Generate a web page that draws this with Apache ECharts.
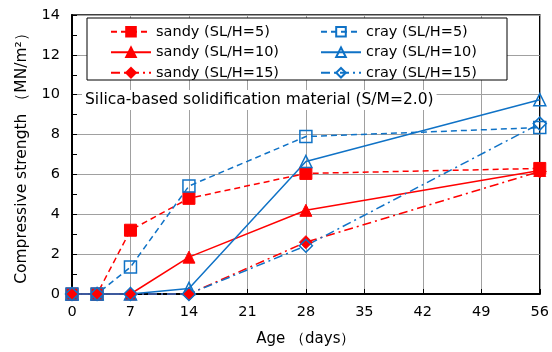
<!DOCTYPE html>
<html>
<head>
<meta charset="utf-8">
<script src="https://cdn.jsdelivr.net/npm/echarts@6/dist/echarts.min.js"></script>
<style>
  html, body { margin: 0; padding: 0; background: #fff; }
  #chart { width: 552px; height: 352px; }
</style>
</head>
<body>
<div id="chart"></div>
<script>
// 材齢（日）
const ages = [0, 3, 7, 14, 28, 56]
const xTicks = [0, 7, 14, 21, 28, 35, 42, 49, 56]
const yTicks = [0, 2, 4, 6, 8, 10, 12, 14]

// 一軸圧縮強さ (MN/m2)
const sandy5 = [0, 0, 3.2, 4.8, 6.05, 6.3]
const sandy10 = [0, 0, 0, 1.85, 4.2, 6.2]
const sandy15 = [0, 0, 0, 0, 2.6, 6.15]
const cray5 = [0, 0, 1.35, 5.42, 7.9, 8.35]
const cray10 = [0, 0, 0, 0.28, 6.65, 9.75]
const cray15 = [0, 0, 0, 0, 2.42, 8.55]

const RED = '#ff0000'
const BLUE = '#0f72c6'
const FONT = 'DejaVu Sans'

const pairs = vals => ages.map((a, i) => [a, vals[i]])

function line (name, vals, color, type, symbol, hollow) {
  return {
    name,
    type: 'line',
    data: pairs(vals),
    symbol,
    symbolSize: symbol === 'diamond' ? 13 : 12,
    clip: false,
    lineStyle: { color, width: 1.5, type },
    itemStyle: hollow
      ? { color: 'rgba(255,255,255,0)', borderColor: color, borderWidth: 1.5 }
      : { color, borderColor: color, borderWidth: 1 },
    emphasis: { disabled: true },
    animation: false
  }
}

const dashDot = [9, 4, 2, 4]

const series = [
  line('sandy (SL/H=5)', sandy5, RED, [6, 4], 'rect', false),
  line('cray (SL/H=5)', cray5, BLUE, [6, 4], 'rect', true),
  line('sandy (SL/H=10)', sandy10, RED, 'solid', 'triangle', false),
  line('cray (SL/H=10)', cray10, BLUE, 'solid', 'triangle', true),
  line('sandy (SL/H=15)', sandy15, RED, dashDot, 'diamond', false),
  line('cray (SL/H=15)', cray15, BLUE, dashDot, 'diamond', true)
]

const legendBase = {
  orient: 'vertical',
  top: 19,
  itemWidth: 40,
  itemHeight: 12,
  itemGap: 5,
  z: 10,
  selectedMode: false,
  textStyle: { fontFamily: FONT, fontSize: 14.5, color: '#000', lineHeight: 15.5 }
}

const options = {
  animation: false,
  textStyle: { fontFamily: FONT },
  grid: { left: 72, right: 10, top: 15, bottom: 57, show: true, borderColor: '#000', borderWidth: 1.5 },
  title: {
    text: 'Silica-based solidification material (S/M=2.0)',
    left: 82,
    top: 90,
    padding: [2, 3],
    backgroundColor: '#fff',
    z: 10,
    textStyle: { fontFamily: FONT, fontSize: 15.5, fontWeight: 'normal', color: '#000' }
  },
  legend: [
    { ...legendBase, left: 105, data: series.filter(s => s.name.startsWith('sandy')).map(s => s.name) },
    { ...legendBase, left: 315, data: series.filter(s => s.name.startsWith('cray')).map(s => s.name) }
  ],
  graphic: [{
    type: 'rect',
    z: 8,
    shape: { x: 87, y: 18, width: 420, height: 62 },
    style: { fill: '#fff', stroke: '#000', lineWidth: 1 }
  }],
  xAxis: {
    type: 'value',
    min: xTicks[0],
    max: xTicks[xTicks.length - 1],
    interval: 7,
    name: 'Age （days）',
    nameLocation: 'middle',
    nameGap: 38,
    nameTextStyle: { fontFamily: FONT, fontSize: 15, color: '#000' },
    axisLine: { lineStyle: { color: '#000', width: 2 } },
    axisTick: { inside: true, length: 5, lineStyle: { color: '#000' } },
    axisLabel: { fontFamily: FONT, fontSize: 14.5, color: '#000', margin: 11 },
    splitLine: { lineStyle: { color: '#a0a0a0', width: 1 } }
  },
  yAxis: {
    type: 'value',
    min: yTicks[0],
    max: yTicks[yTicks.length - 1],
    interval: 2,
    name: 'Compressive strength （MN/m²）',
    nameLocation: 'middle',
    nameGap: 42,
    nameTextStyle: { fontFamily: FONT, fontSize: 15.5, color: '#000' },
    axisLine: { show: true, lineStyle: { color: '#000', width: 2 } },
    axisTick: { show: true, inside: true, length: 5, lineStyle: { color: '#000' } },
    minorTick: { show: true, splitNumber: 2, length: 5, lineStyle: { color: '#000' } },
    axisLabel: { fontFamily: FONT, fontSize: 14.5, color: '#000', margin: 12 },
    splitLine: { lineStyle: { color: '#a0a0a0', width: 1 } }
  },
  series
}

const myChart = echarts.init(document.getElementById('chart'), null, { width: 552, height: 352 })
myChart.setOption(options)
</script>
</body>
</html>
